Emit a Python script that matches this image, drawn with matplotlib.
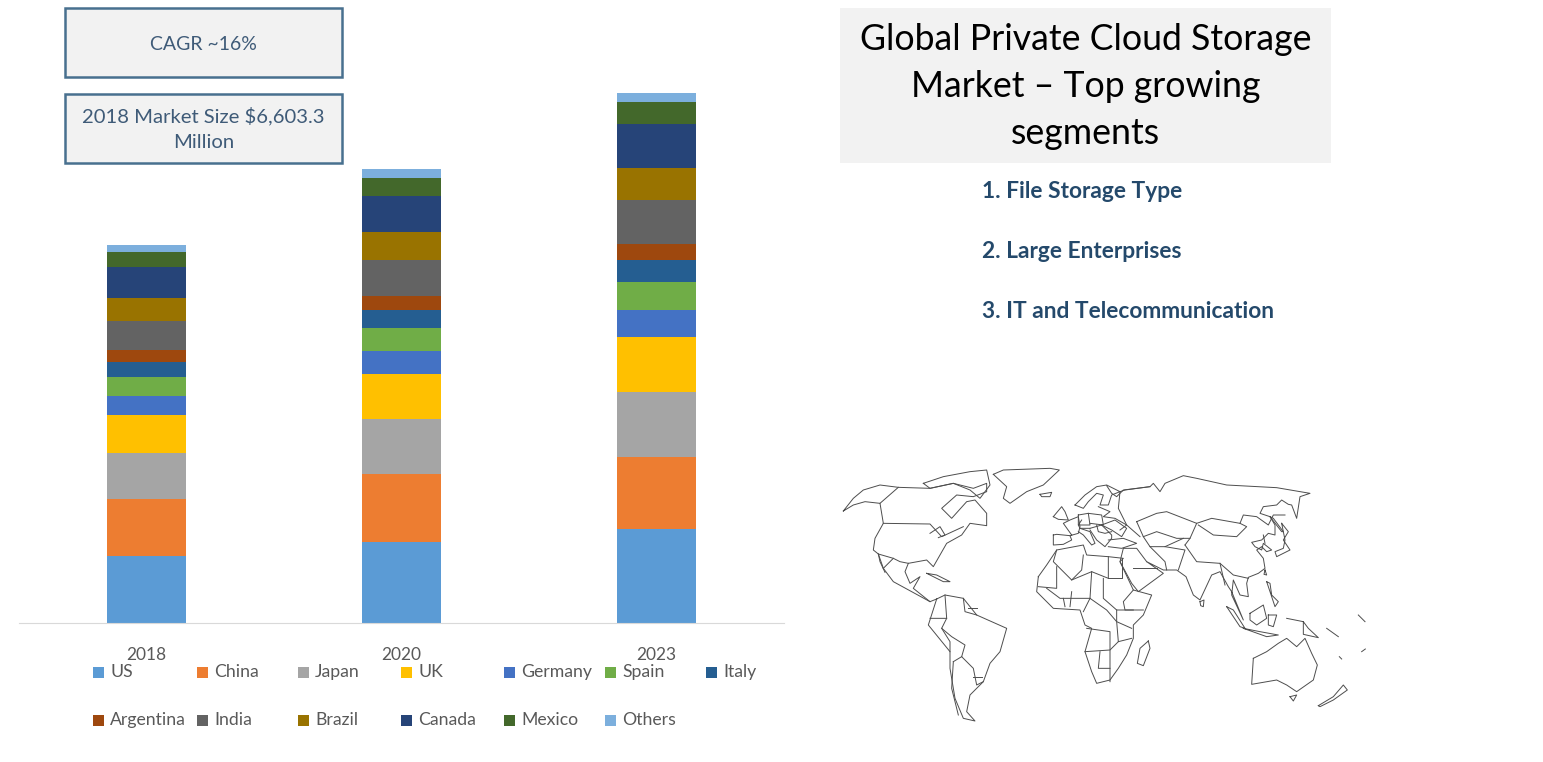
import matplotlib
matplotlib.use('Agg')
import matplotlib.pyplot as plt
from matplotlib.patches import Rectangle

plt.rcParams['font.family'] = ['Lato', 'DejaVu Sans']

years = ['2018', '2020', '2023']
# market size by country, $ million
us = [1170, 1415, 1642]
china = [996, 1188, 1258]
japan = [804, 961, 1136]
uk = [664, 786, 961]
germany = [332, 402, 472]
spain = [332, 402, 489]
italy = [262, 314, 384]
argentina = [210, 245, 280]
india = [507, 629, 769]
brazil = [402, 489, 559]
canada = [542, 629, 769]
mexico = [262, 314, 384]
others = [122, 157, 157]

names = ['US', 'China', 'Japan', 'UK', 'Germany', 'Spain', 'Italy',
         'Argentina', 'India', 'Brazil', 'Canada', 'Mexico', 'Others']
series = [us, china, japan, uk, germany, spain, italy,
          argentina, india, brazil, canada, mexico, others]
colors = ['#5B9BD5', '#ED7D31', '#A5A5A5', '#FFC000', '#4472C4', '#70AD47', '#255E91',
          '#9E480E', '#636363', '#997300', '#264478', '#43682B', '#7CAFDD']

headline = 'Global Private Cloud Storage\nMarket \u2013 Top growing\nsegments'
segments = ['1. File Storage Type', '2. Large Enterprises', '3. IT and Telecommunication']

W, H = 1543, 762
fig = plt.figure(figsize=(W / 100, H / 100), dpi=100)

# chart
ax = fig.add_axes([19 / W, (H - 623) / H, 765 / W, 623 / H])
bottom = [0, 0, 0]
for name, vals, c in zip(names, series, colors):
    ax.bar(range(3), vals, 0.312, bottom=bottom, color=c, label=name)
    bottom = [b + v for b, v in zip(bottom, vals)]
ax.set_xlim(-0.5, 2.5)
ax.set_ylim(0, 623 * 17.47)
ax.set_yticks([])
ax.set_xticks(range(3))
ax.set_xticklabels(years, fontsize=12.5, color='#595959')
ax.tick_params(axis='x', length=0, pad=17.5)
for s in ['top', 'left', 'right']:
    ax.spines[s].set_visible(False)
ax.spines['bottom'].set_color('#d9d9d9')
ax.patch.set_alpha(0)

# overlay in pixel coordinates for boxes, legend and map
ov = fig.add_axes([0, 0, 1, 1])
ov.set_xlim(0, W)
ov.set_ylim(H, 0)
ov.axis('off')
ov.patch.set_alpha(0)

# legend, laid out by hand like the original slide
leg_x = [93, 197, 298, 401, 504, 605, 706]
leg_y = [672, 720]
for i, (name, c) in enumerate(zip(names, colors)):
    x, y = leg_x[i % 7], leg_y[i // 7]
    ov.add_patch(Rectangle((x, y - 5.5), 11, 11, color=c, lw=0))
    ov.text(x + 17, y, name, fontsize=12.7, color='#595959', va='center', ha='left')

# text boxes
ov.add_patch(Rectangle((65, 8), 277, 69, fc='#f2f2f2', ec='#48708f', lw=1.8))
ov.text(203.5, 44, 'CAGR ~16%', ha='center', va='center', fontsize=14, color='#3f5b78')
ov.add_patch(Rectangle((65, 94), 277, 69, fc='#f2f2f2', ec='#48708f', lw=1.8))
ov.text(203.5, 128.5, '2018 Market Size $6,603.3\nMillion', ha='center', va='center', fontsize=14.6,
        color='#3f5b78', linespacing=1.6)

ov.add_patch(Rectangle((840, 8), 491, 155, fc='#f2f2f2', ec='none'))
ov.text(1085.5, 86.5, headline, ha='center', va='center', fontsize=25.7, color='black', linespacing=1.53)

for y, txt in zip([191, 251, 312], segments):
    ov.text(982, y, txt, ha='left', va='center', fontsize=16.4, fontweight='bold', color='#24496b')

# world map outline, traced by eye (x, y on a 3x grid anchored at 830,455)
E = 810  # shift for the eastern half
def east(pts):
    return [(x + E, y) for x, y in pts]

def eur(pts):
    return [(x + 630, y + 60) for x, y in pts]

world = [
    # north america
    [(40,168),(70,150),(105,140),(150,145),(160,205),(135,250),(130,285),(145,297),(190,310),(210,320),(235,325),(290,315),(310,335),(350,265),(395,240),(420,205),(470,212),(470,175),(435,135),(410,140),(365,190),(335,160),(380,120),(430,125),(470,110),(470,85),(430,100),(370,85),(300,100),(205,97),(150,90),(100,105),(70,130),(40,168)],
    [(145,297),(160,340),(190,380),(245,410),(300,440),(320,432)],
    [(235,325),(225,350),(240,385),(270,365),(250,400),(300,440)],
    [(145,297),(150,320),(165,352)],
    [(150,145),(205,97)],
    [(160,205),(300,207),(335,245),(400,215)],
    [(190,310),(160,340)],
    [(300,235),(330,215),(345,240),(325,248)],
    [(290,355),(320,360),(360,380),(340,380),(290,355)],
    # arctic and greenland
    [(280,85),(340,65),(420,50),(470,45),(480,90),(450,130),(420,105),(370,85),(300,100),(280,85)],
    [(490,58),(520,45),(660,40),(688,45),(640,90),(590,110),(540,145),(520,130),(530,95),(490,58)],
    [(630,118),(665,112),(660,125),(635,125),(630,118)],
    # south america
    [(320,432),(345,420),(400,430),(440,480),(530,520),(510,590),(480,625),(460,680),(420,720),(410,770),(435,798),(400,790),(375,730),(360,640),(360,590),(295,510),(320,432)],
    [(345,420),(350,490),(300,490)],
    [(350,490),(335,520),(360,560),(360,590)],
    [(335,520),(365,545),(405,570),(395,605),(430,640),(440,690),(460,680)],
    [(370,620),(395,605)],
    [(370,620),(365,700),(385,780)],
    [(400,430),(405,470),(440,480)],
    [(415,460),(440,460)],
    [(430,665),(455,665)],
    # africa
    [(625,365),(650,330),(680,285),(760,270),(770,300),(835,305),(880,310),(870,320),(910,405),(965,420),(940,480),(910,510),(910,550),(890,600),(865,640),(840,675),(800,685),(785,650),(765,590),(785,520),(765,510),(750,465),(670,460),(620,410),(625,365)],
    [(680,285),(670,320),(725,375),(755,345),(760,300)],
    [(725,375),(785,350),(835,370),(835,305)],
    [(680,335),(680,400),(625,395)],
    [(650,400),(690,430),(780,430)],
    [(785,350),(780,430),(760,470)],
    [(835,370),(875,370),(875,310)],
    [(820,370),(820,430),(860,465),(910,465)],
    [(910,405),(880,440),(885,465),(940,465)],
    [(860,465),(860,500),(905,520)],
    [(780,430),(830,465),(860,500),(865,560),(905,550)],
    [(765,590),(840,585),(865,560)],
    [(770,520),(840,530),(840,680)],
    [(810,590),(805,640),(840,640)],
    [(700,430),(705,455)],
    [(725,410),(720,455)],
]

europe = [
    [(40,180),(40,210),(70,208),(95,195),(90,182),(50,178),(40,180)],
    [(90,182),(115,175),(120,155),(115,125),(90,135),(70,145),(95,180)],
    [(40,125),(65,95),(75,110),(85,135),(55,133),(40,125)],
    [(105,90),(135,60),(170,35),(200,30),(240,50),(215,60),(205,90),(180,90),(190,60),(170,55),(145,80),(130,100),(105,90)],
    [(175,95),(210,110),(190,125),(225,130),(260,150),(240,165)],
    [(115,120),(145,115),(150,150),(115,150),(115,120)],
    [(145,115),(185,120),(190,150),(150,145)],
    [(185,150),(225,135),(260,160),(245,185),(215,165),(185,150)],
    [(120,160),(150,170),(165,205),(155,210),(130,180),(115,170)],
    [(150,160),(185,150),(215,180),(215,190),(195,215),(170,195),(150,165)],
    [(205,195),(250,190),(290,205),(245,220),(205,215)],
    [(240,50),(255,45),(330,35)],
    [(240,50),(235,100),(260,150),(300,185)],
    [(170,150),(175,170),(195,175),(215,170)],
    [(125,135),(115,150),(120,160),(150,160)],
]

asia = [
    # russia and east asia coast
    [(20,92),(35,115),(50,125),(70,105),(150,95),(160,85),(180,110),(195,85),(250,62),(290,70),(380,90),(530,98),(630,115),(600,125),(590,190),(575,150),(565,148),(545,135),(530,150),(490,155),(480,175),(510,185),(525,210),(525,240),(505,235),(485,255),(455,262),(465,275),(485,285),(490,265),(515,285),(500,290),(485,275),(470,285),(490,310),(495,340),(475,355),(445,367),(440,385),(445,425),(420,420),(400,375),(395,420),(430,495),(395,410),(385,395),(360,350),(335,360),(300,435),(280,420),(258,365),(230,345),(190,345),(140,320),(190,355),(115,410),(95,385),(60,320),(70,280)],
    # borders
    [(110,200),(170,175),(200,170),(290,205),(270,250),(230,250),(170,230),(130,245),(110,200)],
    [(290,205),(335,190),(420,205),(430,180),(470,185),(505,210),(520,180),(555,180)],
    [(295,210),(340,240),(410,245),(440,215),(420,205)],
    [(130,245),(150,275),(195,275),(250,250)],
    [(150,275),(195,320),(200,345)],
    [(195,275),(255,285),(235,345)],
    [(255,270),(290,320),(360,325),(400,360),(445,370)],
    [(255,270),(270,250)],
    [(70,280),(110,280),(140,320)],
    [(100,340),(170,340)],
    [(360,325),(375,390)],
    [(490,240),(495,265)],
    # japan and islands
    [(545,205),(565,230),(550,255),(570,285),(530,305),(525,290),(550,280),(555,255),(545,205)],
    [(510,185),(545,230),(550,230),(520,190),(510,185)],
    [(300,440),(312,435),(310,455),(302,452),(300,440)],
    [(380,455),(400,465),(435,520),(420,515),(380,455)],
    [(430,520),(480,530),(535,540),(500,545),(430,520)],
    [(450,475),(490,450),(500,490),(470,510),(450,495),(450,475)],
    [(505,480),(530,480),(520,515),(505,510),(505,480)],
    [(500,380),(510,385),(515,420),(535,440),(525,455),(500,380)],
    [(495,345),(500,360),(492,358),(495,345)],
    [(560,490),(610,500),(625,520),(655,548),(610,538),(610,500)],
    [(460,610),(500,590),(535,565),(560,550),(590,575),(615,550),(635,595),(652,630),(640,675),(590,710),(560,690),(530,675),(455,688),(460,610)],
    [(570,725),(590,720),(580,738),(570,725)],
    [(655,752),(700,725),(730,690),(742,705),(700,735),(660,755),(655,752)],
    [(145,558),(150,580),(130,632),(112,625),(120,580),(145,558)],
    [(680,520),(715,545)],
    [(718,605),(725,612)],
    [(785,590),(796,582)],
    [(775,480),(795,500)],
]

for pts in world + [eur(p) for p in europe] + [east(p) for p in asia]:
    xs = [830 + x / 3 for x, y in pts]
    ys = [455 + y / 3 for x, y in pts]
    ov.plot(xs, ys, color='#4d4d4d', lw=0.7, solid_joinstyle='round')

fig.savefig('out.png', dpi=100)
